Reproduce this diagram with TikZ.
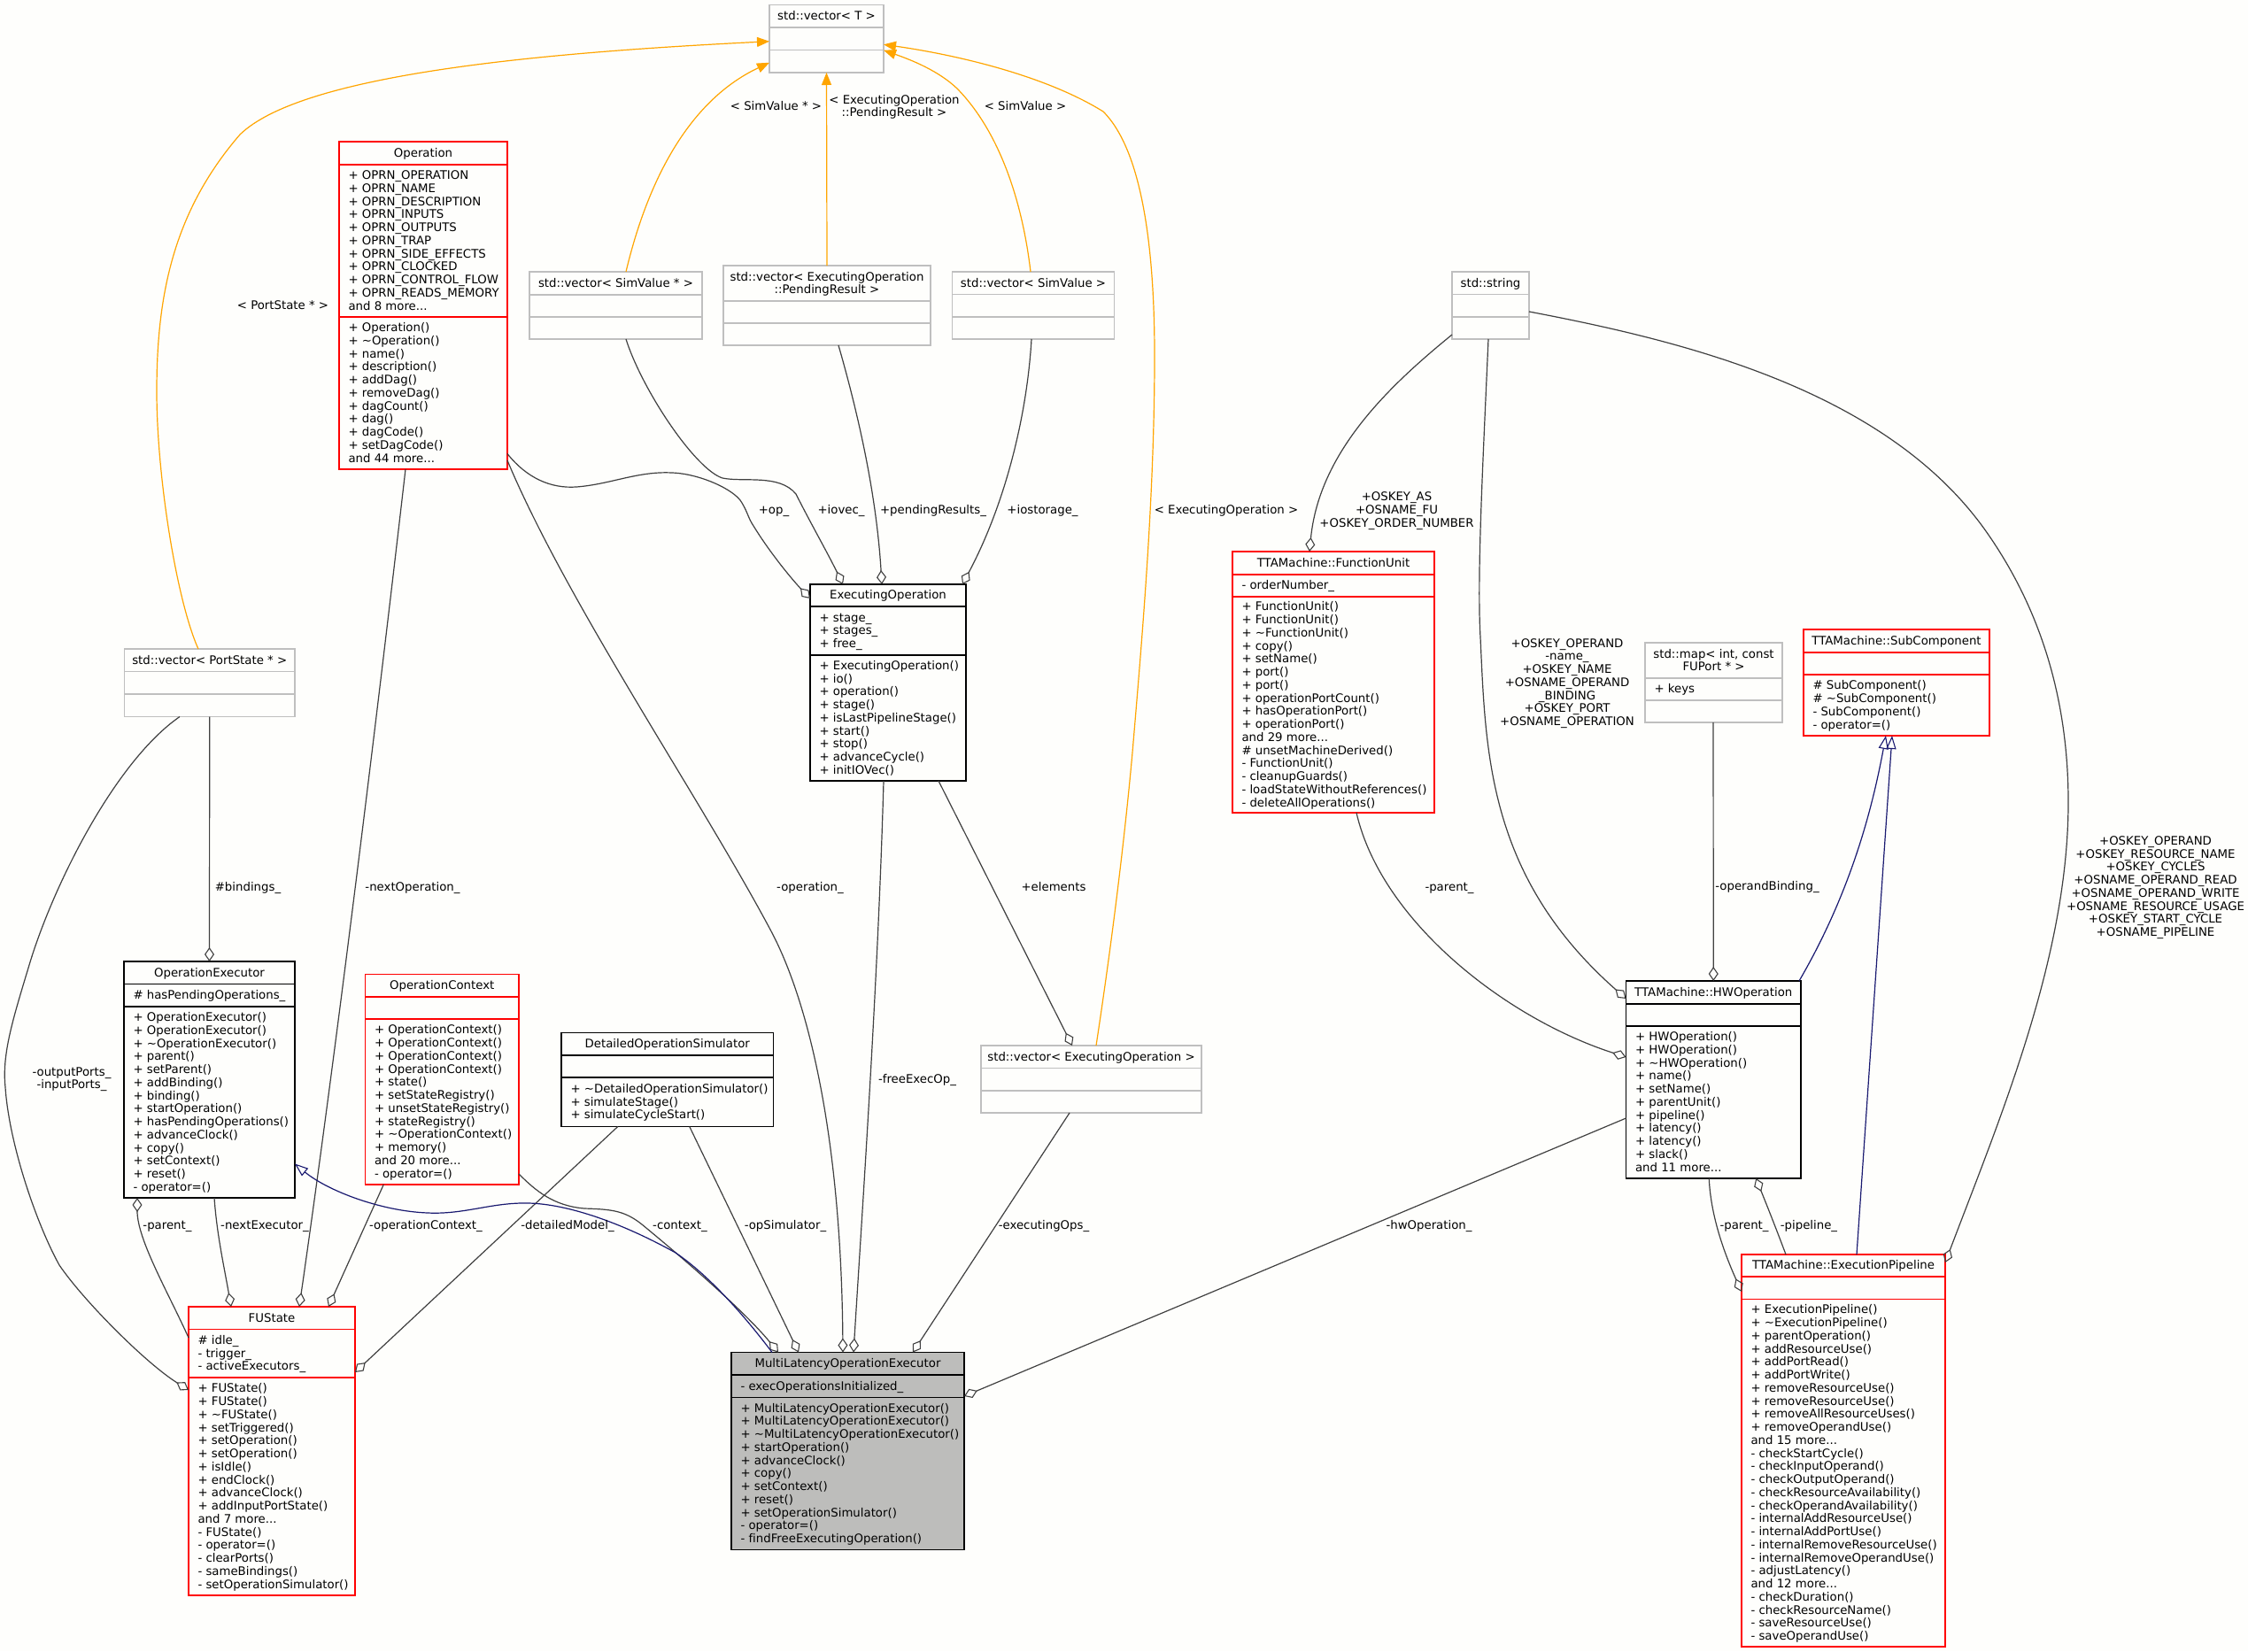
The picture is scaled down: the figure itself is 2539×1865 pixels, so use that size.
\documentclass[tikz,border=0pt]{standalone}
\usepackage{fontspec}
\setmainfont{DejaVu Sans}[Ligatures=NoCommon]
\usetikzlibrary{arrows.meta}
\definecolor{bgc}{HTML}{FEFEFC}
\definecolor{edgec}{HTML}{404040}
\definecolor{greyc}{HTML}{BFBFBF}
\definecolor{focusc}{HTML}{BDBDBB}
\definecolor{navyc}{HTML}{191970}
\definecolor{orangec}{HTML}{FFA500}
\newcommand{\tl}{\textasciitilde}
\newcommand{\us}{\_}
\newcommand{\diafont}{\fontsize{13.3}{14.75}\selectfont}
\tikzset{
  x=1pt,y=-1pt,
  redbox/.style={draw=red,line width=1.1pt},
  blackbox/.style={draw=black,line width=1.1pt},
  greybox/.style={draw=greyc,line width=1.2pt},
  focusbox/.style={draw=black,fill=focusc,line width=1.1pt},
  txtnode/.style={inner sep=0pt,outer sep=0pt,font=\diafont,text=black,yshift=-1.5pt},
  body/.style={txtnode,align=left,anchor=west},
  ctitle/.style={txtnode,align=center},
  elabel/.style={txtnode,align=center},
  agg/.style={draw=edgec,line width=1.2pt,-{Diamond[open,length=16pt,width=11pt,line width=1.1pt]}},
  inh/.style={draw=navyc,line width=1.2pt,{Triangle[open,length=15pt,width=11pt,line width=1.1pt]}-},
  tmpl/.style={draw=orangec,line width=1.2pt,-{Triangle[length=14pt,width=11pt]}},
}
% name, style, x1, y1, x2, y2, sep1, sep2
\newcommand{\classbox}[8]{%
  \def\bxN{#1}\def\bxA{#3}\def\bxB{#4}\def\bxC{#5}\def\bxD{#6}\def\bxE{#7}\def\bxF{#8}%
  \node[#2,inner sep=0pt,outer sep=0pt,minimum width={(#5-#3)*1pt},minimum height={(#6-#4)*1pt}] (#1) at ({(#3+#5)/2},{(#4+#6)/2}) {};
  \draw[#2,fill=none] (#3,#7) -- (#5,#7);
  \draw[#2,fill=none] (#3,#8) -- (#5,#8);
}
% title, attributes, operations
\newcommand{\classtext}[3]{%
  \node[ctitle] (\bxN-t) at ({(\bxA+\bxC)/2},{(\bxB+\bxE)/2}) {\strut #1\strut};
  \if\relax\detokenize{#2}\relax\else
  \node[body] (\bxN-a) at ({\bxA+10.5},{(\bxE+\bxF)/2}) {\strut #2\strut};
  \fi
  \if\relax\detokenize{#3}\relax\else
  \node[body] (\bxN-o) at ({\bxA+10.5},{(\bxF+\bxD)/2}) {\strut #3\strut};
  \fi
}
\newcommand{\lbl}[4]{\node[elabel] (#1) at (#2,#3) {\strut #4\strut};}
\begin{document}
\begin{tikzpicture}
\useasboundingbox[fill=bgc] (0,0) rectangle (2539,1865);

\classbox{vecT}{greybox}{869}{5.5}{998}{82}{31}{56.5}
\classtext{std::vector< T >}{}{}
\classbox{vecSimP}{greybox}{598}{307}{793}{383}{333}{358}
\classtext{std::vector< SimValue * >}{}{}
\classbox{vecPend}{greybox}{817}{300}{1051}{390}{340}{365}
\classtext{std::vector< ExecutingOperation\\ ::PendingResult >}{}{}
\classbox{vecSim}{greybox}{1075.5}{307}{1258.5}{383}{332.5}{358}
\classtext{std::vector< SimValue >}{}{}
\classbox{str}{greybox}{1640}{307}{1727}{383}{332.5}{358}
\classtext{std::string}{}{}
\classbox{vecPort}{greybox}{140.5}{733}{333}{809.5}{758.5}{784}
\classtext{std::vector< PortState * >}{}{}
\classbox{vecExec}{greybox}{1108}{1181}{1357}{1257}{1206.5}{1232}
\classtext{std::vector< ExecutingOperation >}{}{}
\classbox{map}{greybox}{1858}{726}{2013}{816}{766}{791}
\classtext{std::map< int, const\\ FUPort * >}{+ keys}{}

\classbox{oper}{redbox}{383}{160}{573}{530}{186}{358}
\classtext{Operation}{+ OPRN\us OPERATION\\ + OPRN\us NAME\\ + OPRN\us DESCRIPTION\\ + OPRN\us INPUTS\\ + OPRN\us OUTPUTS\\ + OPRN\us TRAP\\ + OPRN\us SIDE\us EFFECTS\\ + OPRN\us CLOCKED\\ + OPRN\us CONTROL\us FLOW\\ + OPRN\us READS\us MEMORY\\ and 8 more...}{+ Operation()\\ + \tl Operation()\\ + name()\\ + description()\\ + addDag()\\ + removeDag()\\ + dagCount()\\ + dag()\\ + dagCode()\\ + setDagCode()\\ and 44 more...}

\classbox{execOp}{blackbox}{915}{660}{1091}{882}{685}{740}
\classtext{ExecutingOperation}{+ stage\us\\ + stages\us\\ + free\us}{+ ExecutingOperation()\\ + io()\\ + operation()\\ + stage()\\ + isLastPipelineStage()\\ + start()\\ + stop()\\ + advanceCycle()\\ + initIOVec()}

\classbox{fu}{redbox}{1392}{623}{1620}{918}{649}{674}
\classtext{TTAMachine::FunctionUnit}{- orderNumber\us}{+ FunctionUnit()\\ + FunctionUnit()\\ + \tl FunctionUnit()\\ + copy()\\ + setName()\\ + port()\\ + port()\\ + operationPortCount()\\ + hasOperationPort()\\ + operationPort()\\ and 29 more...\\ \# unsetMachineDerived()\\ - FunctionUnit()\\ - cleanupGuards()\\ - loadStateWithoutReferences()\\ - deleteAllOperations()}

\classbox{sub}{redbox}{2037}{711}{2247}{831}{737}{762}
\classtext{TTAMachine::SubComponent}{}{\# SubComponent()\\ \# \tl SubComponent()\\ - SubComponent()\\ - operator=()}

\classbox{hw}{blackbox}{1836.5}{1108}{2034}{1331}{1134}{1159}
\classtext{TTAMachine::HWOperation}{}{+ HWOperation()\\ + HWOperation()\\ + \tl HWOperation()\\ + name()\\ + setName()\\ + parentUnit()\\ + pipeline()\\ + latency()\\ + latency()\\ + slack()\\ and 11 more...}

\classbox{pipe}{redbox}{1967}{1417}{2197}{1860}{1442}{1467.5}
\classtext{TTAMachine::ExecutionPipeline}{}{+ ExecutionPipeline()\\ + \tl ExecutionPipeline()\\ + parentOperation()\\ + addResourceUse()\\ + addPortRead()\\ + addPortWrite()\\ + removeResourceUse()\\ + removeResourceUse()\\ + removeAllResourceUses()\\ + removeOperandUse()\\ and 15 more...\\ - checkStartCycle()\\ - checkInputOperand()\\ - checkOutputOperand()\\ - checkResourceAvailability()\\ - checkOperandAvailability()\\ - internalAddResourceUse()\\ - internalAddPortUse()\\ - internalRemoveResourceUse()\\ - internalRemoveOperandUse()\\ - adjustLatency()\\ and 12 more...\\ - checkDuration()\\ - checkResourceName()\\ - saveResourceUse()\\ - saveOperandUse()}

\classbox{opExec}{blackbox}{140}{1086}{333}{1353}{1111.5}{1137}
\classtext{OperationExecutor}{\# hasPendingOperations\us}{+ OperationExecutor()\\ + OperationExecutor()\\ + \tl OperationExecutor()\\ + parent()\\ + setParent()\\ + addBinding()\\ + binding()\\ + startOperation()\\ + hasPendingOperations()\\ + advanceClock()\\ + copy()\\ + setContext()\\ + reset()\\ - operator=()}

\classbox{opCtx}{redbox}{412.5}{1100.5}{586}{1338}{1126}{1151}
\classtext{OperationContext}{}{+ OperationContext()\\ + OperationContext()\\ + OperationContext()\\ + OperationContext()\\ + state()\\ + setStateRegistry()\\ + unsetStateRegistry()\\ + stateRegistry()\\ + \tl OperationContext()\\ + memory()\\ and 20 more...\\ - operator=()}

\classbox{detail}{blackbox}{634}{1166.5}{873.5}{1272.5}{1192}{1217}
\classtext{DetailedOperationSimulator}{}{+ \tl DetailedOperationSimulator()\\ + simulateStage()\\ + simulateCycleStart()}

\classbox{fus}{redbox}{213}{1476}{401}{1802}{1501.5}{1556}
\classtext{FUState}{\# idle\us\\ - trigger\us\\ - activeExecutors\us}{+ FUState()\\ + FUState()\\ + \tl FUState()\\ + setTriggered()\\ + setOperation()\\ + setOperation()\\ + isIdle()\\ + endClock()\\ + advanceClock()\\ + addInputPortState()\\ and 7 more...\\ - FUState()\\ - operator=()\\ - clearPorts()\\ - sameBindings()\\ - setOperationSimulator()}

\classbox{multi}{focusbox}{826}{1527.5}{1089}{1750.5}{1553}{1578.5}
\classtext{MultiLatencyOperationExecutor}{- execOperationsInitialized\us}{+ MultiLatencyOperationExecutor()\\ + MultiLatencyOperationExecutor()\\ + \tl MultiLatencyOperationExecutor()\\ + startOperation()\\ + advanceClock()\\ + copy()\\ + setContext()\\ + reset()\\ + setOperationSimulator()\\ - operator=()\\ - findFreeExecutingOperation()}

% template edges
\draw[tmpl] ([xshift=-12.75pt]vecPort.north) .. controls (200,680) and (177,540) .. (177,442) .. controls (177,335) and (195,240) .. (271,152) .. controls (340,85) and (600,60) .. ([yshift=-3pt]vecT.west);
\draw[tmpl] ([xshift=11.5pt]vecSimP.north) .. controls (730,210) and (775,115) .. ([yshift=-27pt]vecT.west);
\draw[tmpl] (vecPend.north) -- (vecT.south);
\draw[tmpl] ([xshift=-3pt]vecSim.north) .. controls (1155,230) and (1130,150) .. (1081,100) .. controls (1060,80) and (1030,68) .. ([yshift=-13pt]vecT.east);
\draw[tmpl] ([xshift=5.5pt]vecExec.north) .. controls (1255,1070) and (1270,950) .. (1279,850) .. controls (1290,720) and (1304,560) .. (1304,402) .. controls (1304,280) and (1290,170) .. (1246,126) .. controls (1180,85) and (1080,62) .. ([yshift=-6.5pt]vecT.east);

% aggregation edges
\draw[agg] ([yshift=17.5pt]oper.south east) .. controls (595,540) and (622,552) .. (651,550) .. controls (690,547) and (720,532) .. (759,534) .. controls (790,535) and (830,553) .. (838,568) .. controls (845,580) and (845,585) .. (851,594) .. controls (870,625) and (895,655) .. ([yshift=-16pt]execOp.north west);
\draw[agg] ([xshift=11.5pt]vecSimP.south) .. controls (725,440) and (785,530) .. (816,540) .. controls (840,545) and (880,535) .. (899,558) .. controls (915,590) and (935,625) .. ([xshift=37pt]execOp.north west);
\draw[agg] ([xshift=13pt]vecPend.south) .. controls (970,470) and (990,560) .. ([xshift=-7pt]execOp.north);
\draw[agg] ([xshift=-2pt]vecSim.south) .. controls (1160,470) and (1135,570) .. ([xshift=-4pt]execOp.north east);
\draw[agg] ([yshift=10pt]oper.south east) .. controls (640,680) and (790,900) .. (870,1050) .. controls (912,1128) and (950,1280) .. ([xshift=-5.5pt]multi.north);
\draw[agg] ([xshift=-20pt]oper.south) .. controls (435,730) and (385,1150) .. ([xshift=31pt]fus.north);
\draw[agg] (vecPort.south) -- (opExec.north);
\draw[agg] ([xshift=-33.75pt]vecPort.south) .. controls (130,860) and (60,1000) .. (33,1090) .. controls (15,1150) and (2,1190) .. (6,1228) .. controls (10,1290) and (40,1380) .. (67,1429) .. controls (95,1470) and (165,1540) .. ([yshift=-94pt]fus.north west);
\draw[agg] ([yshift=-35pt]fus.north west) .. controls (190,1460) and (155,1400) .. ([xshift=15pt]opExec.south west);
\draw[agg] ([xshift=5.5pt]opExec.south) .. controls (245,1395) and (253,1430) .. ([xshift=-46pt]fus.north);
\draw[agg] ([xshift=-66pt]opCtx.south) -- ([xshift=64pt]fus.north);
\draw[agg] ([xshift=-56pt]detail.south) -- ([yshift=-74pt]fus.north east);
\draw[agg] ([yshift=12pt]opCtx.south east) .. controls (605,1345) and (625,1362) .. (660,1365) .. controls (690,1366) and (705,1367) .. (725,1383) .. controls (770,1420) and (840,1480) .. ([xshift=53pt]multi.north west);
\draw[agg] ([xshift=25pt]detail.south) -- ([xshift=-55.5pt]multi.north);
\draw[agg] ([xshift=-5pt]execOp.south) .. controls (992,1100) and (975,1350) .. ([xshift=6.5pt]multi.north);
\draw[agg] ([xshift=-24.5pt]vecExec.south) -- ([xshift=73.5pt]multi.north);
\draw[agg] ([xshift=57pt]execOp.south) -- ([xshift=-21.5pt]vecExec.north);
\draw[agg] ([yshift=68pt]hw.south west) -- ([yshift=-49.5pt]multi.north east);
\draw[agg] ([yshift=5pt]str.south west) .. controls (1570,435) and (1490,510) .. ([xshift=87pt]fu.north west);
\draw[agg] ([xshift=-2.5pt]str.south) .. controls (1675,520) and (1668,650) .. (1672,720) .. controls (1678,850) and (1680,990) .. ([yshift=-20pt]hw.north west);
\draw[agg] ([yshift=-45pt]str.north east) .. controls (1900,385) and (2130,440) .. (2243,600) .. controls (2310,695) and (2336,800) .. (2336,906) .. controls (2336,1080) and (2260,1260) .. ([yshift=-9pt]pipe.north east);
\draw[agg] ([xshift=-.5pt]map.south) -- (hw.north);
\draw[agg] ([xshift=-5pt]hw.south) .. controls (1932,1370) and (1945,1410) .. ([yshift=-42pt]pipe.north west);
\draw[agg] ([xshift=-65pt]pipe.north) .. controls (2005,1385) and (1995,1360) .. ([xshift=48pt]hw.south);
\draw[agg] ([xshift=26pt]fu.south) .. controls (1560,1040) and (1700,1150) .. ([yshift=-86pt]hw.north west);

% inheritance edges
\draw[inh] ([yshift=38.5pt]opExec.south east) .. controls (370,1345) and (430,1368) .. (483,1370) .. controls (525,1372) and (555,1358) .. (597,1359) .. controls (640,1360) and (700,1380) .. (763,1415) .. controls (800,1440) and (840,1485) .. ([xshift=46pt]multi.north west);
\draw[inh] ([xshift=-12pt]sub.south) .. controls (2117,900) and (2095,1000) .. ([xshift=-2pt]hw.north east);
\draw[inh] ([xshift=-5pt]sub.south) -- ([xshift=15pt]pipe.north);

% labels
\lbl{lPort}{319.5}{344.6}{< PortState * >}
\lbl{lSimP}{876.5}{120.5}{< SimValue * >}
\lbl{lPend}{1010}{120}{< ExecutingOperation\\ ::PendingResult >}
\lbl{lSim}{1158}{120.5}{< SimValue >}
\lbl{lExec}{1385}{576}{< ExecutingOperation >}
\lbl{lop}{874}{576}{+op\us}
\lbl{liovec}{950}{576}{+iovec\us}
\lbl{lpend}{1054}{576}{+pendingResults\us}
\lbl{lios}{1177.5}{576}{+iostorage\us}
\lbl{lFu}{1577.5}{576}{+OSKEY\us AS\\ +OSNAME\us FU\\ +OSKEY\us ORDER\us NUMBER}
\lbl{lOpn}{915}{1002}{-operation\us}
\lbl{lNext}{466}{1002}{-nextOperation\us}
\lbl{lBind}{280}{1002}{\#bindings\us}
\lbl{lElem}{1190}{1002}{+elements}
\lbl{lFu2}{1637}{1002}{-parent\us}
\lbl{lOB}{1996}{1001.5}{-operandBinding\us}
\lbl{lHw}{1770}{771}{+OSKEY\us OPERAND\\ -name\us\\ +OSKEY\us NAME\\ +OSNAME\us OPERAND\\ \us BINDING\\ +OSKEY\us PORT\\ +OSNAME\us OPERATION}
\lbl{lPipe}{2434.5}{1001.5}{+OSKEY\us OPERAND\\ +OSKEY\us RESOURCE\us NAME\\ +OSKEY\us CYCLES\\ +OSNAME\us OPERAND\us READ\\ +OSNAME\us OPERAND\us WRITE\\ +OSNAME\us RESOURCE\us USAGE\\ +OSKEY\us START\us CYCLE\\ +OSNAME\us PIPELINE}
\lbl{lPorts}{81}{1218}{-outputPorts\us\\ -inputPorts\us}
\lbl{lFree}{1036}{1219}{-freeExecOp\us}
\lbl{lPar}{189}{1384}{-parent\us}
\lbl{lNE}{299}{1384}{-nextExecutor\us}
\lbl{lOC}{481}{1384}{-operationContext\us}
\lbl{lDM}{641}{1384}{-detailedModel\us}
\lbl{lCtx}{768}{1384}{-context\us}
\lbl{lSimu}{887}{1384}{-opSimulator\us}
\lbl{lEOps}{1179}{1384}{-executingOps\us}
\lbl{lHwo}{1614}{1384}{-hwOperation\us}
\lbl{lPar2}{1970}{1384}{-parent\us}
\lbl{lPipe2}{2043}{1384}{-pipeline\us}
\end{tikzpicture}
\end{document}
